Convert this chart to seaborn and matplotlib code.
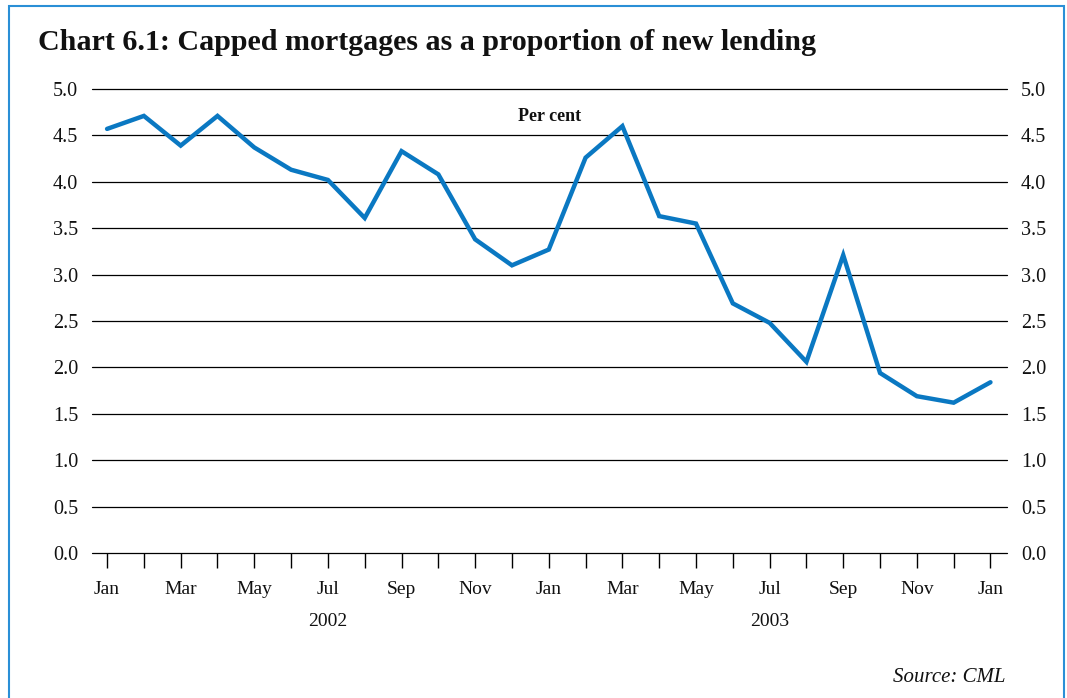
import matplotlib
matplotlib.use("Agg")
import matplotlib.pyplot as plt
import seaborn as sns
import pandas as pd
from matplotlib.patches import Rectangle

# Capped mortgages, share of new lending (per cent), Jan 2002 - Jan 2004
months = ["Jan", "Feb", "Mar", "Apr", "May", "Jun", "Jul", "Aug", "Sep", "Oct", "Nov", "Dec",
          "Jan", "Feb", "Mar", "Apr", "May", "Jun", "Jul", "Aug", "Sep", "Oct", "Nov", "Dec",
          "Jan"]
values = [4.57, 4.71, 4.39, 4.71, 4.37, 4.13, 4.02, 3.61, 4.33, 4.08, 3.38, 3.10,
          3.27, 4.26, 4.60, 3.63, 3.55, 2.69, 2.48, 2.06, 3.21, 1.94, 1.69, 1.62,
          1.84]
years = ["2002", "2003"]
y_ticks = [0.0, 0.5, 1.0, 1.5, 2.0, 2.5, 3.0, 3.5, 4.0, 4.5, 5.0]

df = pd.DataFrame({"idx": range(len(values)), "value": values})

sns.set_theme(style="white")
plt.rcParams["font.family"] = ["Liberation Serif", "DejaVu Serif"]

fig = plt.figure(figsize=(10.67, 6.98), dpi=100)
ax = fig.add_axes([0.0862, 0.2077, 0.8576, 0.6648])

line_color = "#0a78c2"
sns.lineplot(data=df, x="idx", y="value", ax=ax, color=line_color, linewidth=3.2,
             solid_joinstyle="miter")

ax.set_ylim(0, 5)
ax.set_xlim(-0.41, 24.45)
ax.set_yticks(y_ticks)
ax.set_yticklabels([f"{v:.1f}" for v in y_ticks])
for v in y_ticks:
    ax.axhline(v, color="black", linewidth=0.9, zorder=0, clip_on=False)

ax.set_xticks(range(len(months)))
ax.set_xticklabels([m if i % 2 == 0 else "" for i, m in enumerate(months)])
ax.tick_params(axis="x", direction="out", length=11, width=1.0, color="black",
               bottom=True, pad=9, labelsize=14, labelcolor="#111111")
ax.tick_params(axis="y", left=False, right=False, labelleft=True, labelright=True,
               labelsize=14.5, labelcolor="#111111", pad=4)
for s in ax.spines.values():
    s.set_visible(False)
ax.set_xlabel("")
ax.set_ylabel("")

# Year labels under mid-year ticks
for k, yr in enumerate(years):
    ax.text(6 + 12 * k, -0.74, yr, ha="center", va="center", fontsize=14,
            color="#111111", transform=ax.transData)

ax.text(0.5, 0.94, "Per cent", transform=ax.transAxes, ha="center", va="center",
        fontsize=13, fontweight="bold", color="#111111")

fig.text(38 / 1067, 1 - 43 / 698, "Chart 6.1: Capped mortgages as a proportion of new lending",
         ha="left", va="center", fontsize=21.6, fontweight="bold", color="#111111")
fig.text(1005 / 1067, 1 - 677 / 698, "Source: CML", ha="right", va="center",
         fontsize=15, style="italic", color="#111111")

# Frame around the chart
fig.patches.append(Rectangle((9 / 1067, -0.05), (1064 - 9) / 1067, 1.05 - 6 / 698,
                             transform=fig.transFigure, fill=False,
                             edgecolor="#2a8fd6", linewidth=1.5))

fig.savefig("out.png", dpi=100)
